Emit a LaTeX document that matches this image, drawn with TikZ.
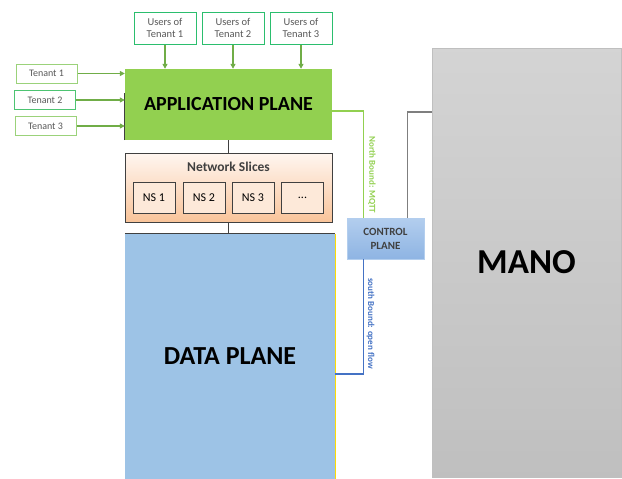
\documentclass[tikz,border=0pt]{standalone}
\usepackage{fontspec}
\setmainfont{Carlito}
\usetikzlibrary{arrows.meta,calc}
\definecolor{appgreen}{HTML}{92D050}
\definecolor{arrgreen}{HTML}{70AD47}
\definecolor{userbd}{HTML}{2BBE6E}
\definecolor{tenbd}{HTML}{9BD27A}
\definecolor{txtgray}{HTML}{595959}
\definecolor{dataBlue}{HTML}{9DC3E6}
\definecolor{sbBlue}{HTML}{4472C4}
\definecolor{lineGray}{HTML}{7F7F7F}
\definecolor{darkGray}{HTML}{404040}
\definecolor{ctrlTop}{HTML}{B3CEEE}
\definecolor{ctrlBot}{HTML}{8EB4E3}
\definecolor{nsTop}{HTML}{FFF6F0}
\definecolor{nsBot}{HTML}{F9C49A}
\definecolor{nsFill}{HTML}{FDE9D9}
\tikzset{
  userbox/.style={draw=userbd, line width=1pt, fill=white, minimum width=62pt, minimum height=32pt, align=center, text=txtgray, font=\fontsize{10.5}{12}\selectfont, inner sep=0pt},
  tenbox/.style={draw=tenbd, line width=1pt, fill=white, minimum width=61pt, minimum height=19pt, text=txtgray, font=\fontsize{10}{12}\selectfont, inner sep=0pt},
  nsbox/.style={draw=darkGray, line width=0.6pt, fill=nsFill, minimum width=42pt, minimum height=31pt, font=\fontsize{12}{14}\selectfont, inner sep=0pt},
  garr/.style={draw=arrgreen, line width=1.2pt, -{Triangle[length=5pt,width=5pt]}},
  link/.style={draw=darkGray, line width=1pt},
}
\begin{document}
\begin{tikzpicture}[x=1pt,y=-1pt]
\useasboundingbox (0,0) rectangle (622,479);
% MANO
\node[draw=gray!50, line width=0.5pt, top color=black!17, bottom color=black!25, minimum width=189pt, minimum height=429pt, inner sep=0pt, font=\fontsize{35}{40}\selectfont\bfseries] (mano) at (526.5,262.5) {MANO};
% users
\node[userbox] (u1) at (165,28) {Users of\\Tenant 1};
\node[userbox] (u2) at (233,28) {Users of\\Tenant 2};
\node[userbox] (u3) at (301,28) {Users of\\Tenant 3};
% tenants
\node[tenbox] (t1) at (46.5,73.5) {Tenant 1};
\node[tenbox, draw=userbd!70!tenbd] (t2) at (45,100) {Tenant 2};
\node[tenbox] (t3) at (45.5,126) {Tenant 3};
% application plane
\node[fill=appgreen, minimum width=207pt, minimum height=71pt, inner sep=0pt, font=\fontsize{20}{24}\selectfont\bfseries] (app) at (228.5,104.5) {APPLICATION PLANE};
\draw[darkGray, line width=1pt] (app.south west) -- ++(0,-47);
% network slices
\node[draw=darkGray, line width=0.8pt, top color=nsTop, bottom color=nsBot, minimum width=207pt, minimum height=69pt, inner sep=0pt] (ns) at (228.5,187.5) {};
\node[font=\fontsize{13.5}{16}\selectfont\bfseries, text=darkGray] (nstitle) at (228.5,167) {Network Slices};
\node[nsbox] (ns1) at (154,197.5) {NS 1};
\node[nsbox] (ns2) at (204,197.5) {NS 2};
\node[nsbox] (ns3) at (253,197.5) {NS 3};
\node[nsbox] (ns4) at (302.5,197.5) {...};
% data plane
\node[fill=dataBlue, minimum width=210pt, minimum height=245pt, inner sep=0pt, font=\fontsize{26}{30}\selectfont\bfseries] (data) at (230,356.5) {DATA PLANE};
\draw[darkGray, line width=0.8pt] (data.north west) -- (data.north east);
\draw[yellow!80!orange, line width=0.6pt] (data.north east) -- (data.south east);
% control plane
\node[top color=ctrlTop, bottom color=ctrlBot, draw=ctrlTop, line width=0.4pt, minimum width=77pt, minimum height=41pt, inner sep=0pt, align=center, font=\fontsize{11}{14}\selectfont\bfseries, text=darkGray] (ctrl) at (385.5,238.5) {CONTROL\\PLANE};
% connectors
\draw[garr] (u1.south) -- (u1.south |- app.north);
\draw[garr] (u2.south) -- (u2.south |- app.north);
\draw[garr] (u3.south) -- (u3.south |- app.north);
\draw[garr] (t1.east) -- (t1.east -| app.west);
\draw[garr] (t2.east) -- (t2.east -| app.west);
\draw[garr] (t3.east) -- (t3.east -| app.west);
\draw[link] (app.south) -- (ns.north);
\draw[link] (ns.south) -- (ns.south |- data.north);
\draw[appgreen, line width=1.2pt] (app.east |- 0,111) -| ([xshift=17pt]ctrl.north west);
\draw[lineGray, line width=1.2pt] ([xshift=61pt]ctrl.north west) |- (mano.west |- 0,112);
\draw[sbBlue, line width=1.2pt] ([xshift=17pt]ctrl.south west) |- (data.east |- 0,374);
\node[rotate=-90, text=appgreen, font=\fontsize{9}{10}\selectfont\bfseries, inner sep=0pt] (nbl) at (372,175) {North Bound: MQTT};
\node[rotate=-90, text=sbBlue, font=\fontsize{9}{10}\selectfont\bfseries, inner sep=0pt] (sbl) at (370.5,323.5) {south Bound: open flow};
\end{tikzpicture}
\end{document}
